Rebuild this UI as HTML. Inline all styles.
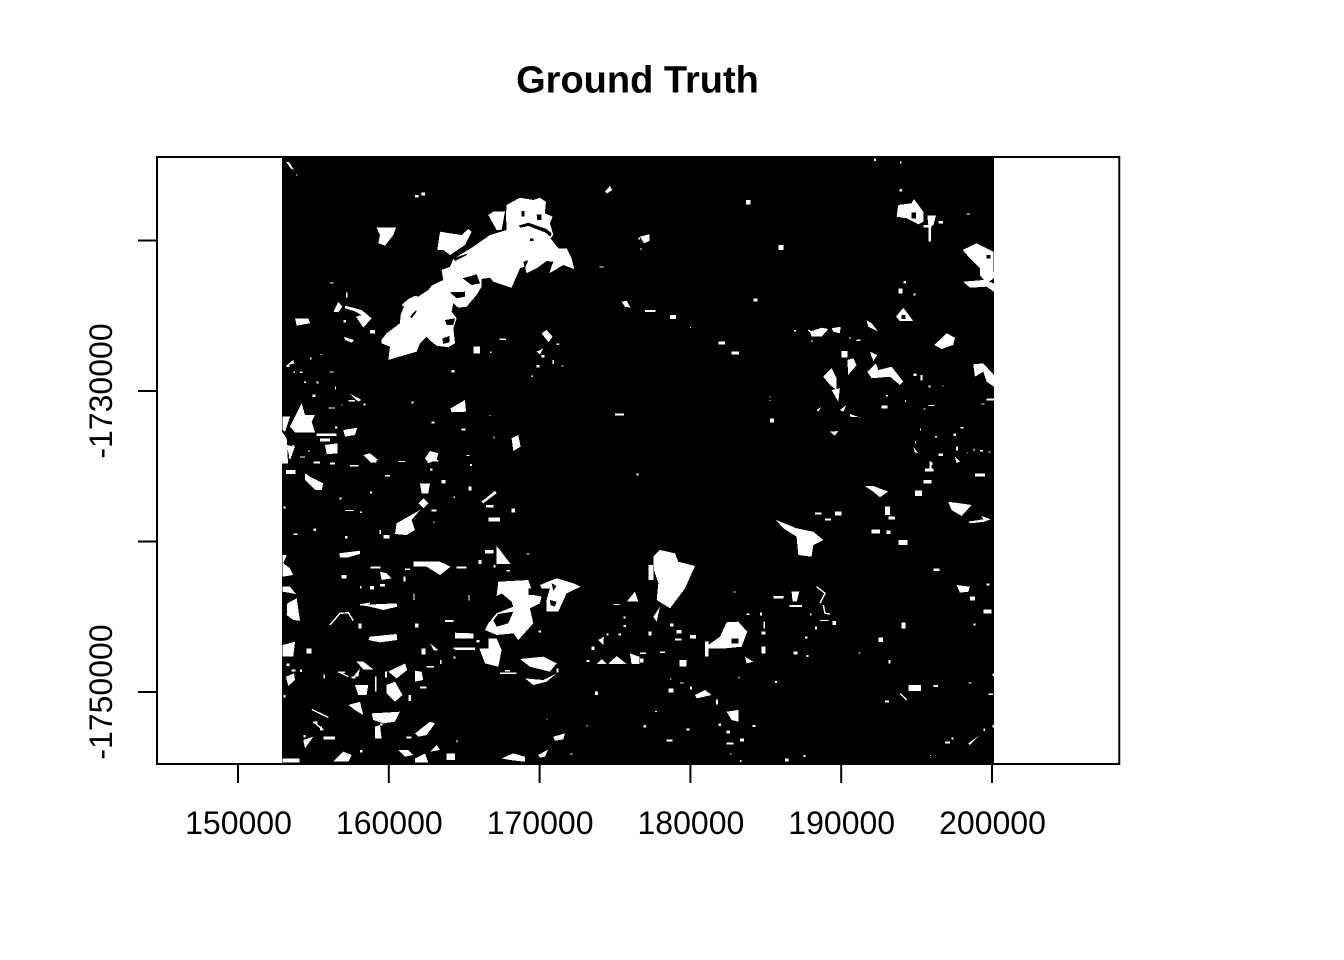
<!DOCTYPE html>
<html>
<head>
<meta charset="utf-8">
<title>Ground Truth</title>
<style>
html,body{margin:0;padding:0;background:#fff}
svg{display:block}
text{font-family:"Liberation Sans",Arial,sans-serif;fill:#000}
</style>
</head>
<body>
<svg id="chart" xmlns="http://www.w3.org/2000/svg" width="1344" height="960" viewBox="0 0 1344 960">
  <rect x="0" y="0" width="1344" height="960" fill="#fff"/>
  <g id="raster" shape-rendering="crispEdges"></g>
  <g id="axes"></g>
  <text x="637.5" y="92.5" text-anchor="middle" font-size="38" font-weight="bold">Ground Truth</text>
</svg>
<script>
// Axis ticks (map metres)
const xTicks = [150000,160000,170000,180000,190000,200000];
const yTicks = [-1720000,-1730000,-1740000,-1750000];
const yTickLabels = ["","-1730000","","-1750000"];
// Raster extent (map metres)
const rasterWest = 152918;
const rasterEast = 200133;
const rasterNorth = -1714452;
const rasterSouth = -1754820;
// Plot window limits (map metres)
const plotWest = 144630;
const plotEast = 208440;
const plotNorth = -1714452;
const plotSouth = -1754784;
// Survey tile origins (map metres) and sample size (metres per sample)
const sampleEast = 22.1;
const sampleNorth = 22.15;
const nwOrigin = [152785,-1714318];
const swOrigin = [152785,-1734585];
const neOrigin = [176657,-1714318];
const seOrigin = [176657,-1734585];

// Class-1 patches in tile sample coordinates
const nwPatches = [
[304,555,320,535,360,505,362,480,372,455,365,450,385,432,405,422,415,425,445,405,455,392,490,375,485,345,510,335,520,312,580,275,630,240,680,225,678,180,680,150,720,128,760,135,780,128,798,140,795,175,818,185,810,205,820,240,812,250,835,280,860,280,875,310,883,342,850,330,808,355,820,320,800,318,770,340,740,355,735,335,720,340,695,398,640,380,630,368,605,372,605,395,590,420,560,455,535,458,520,445,515,470,530,490,520,520,525,565,505,577,470,572,455,560,440,545,420,565,410,590,375,600,325,615,330,575,305,565],
[640,170,675,170,665,225,650,225,625,180],
[480,230,510,235,545,240,565,222,575,230,555,270,510,300,490,285,472,285],
[290,218,348,218,340,240,315,272,295,265,300,240],
[18,20,28,22,42,45,32,40],
[975,110,990,93,997,105,982,115],
[1025,440,1040,437,1052,458,1035,455],
[160,470,175,440,187,455,175,472],
[195,452,245,465,275,490,250,518,228,485,245,480,222,468,195,460],
[45,490,85,490,90,505,50,512],
[192,545,222,555,215,563,195,555],
[785,535,800,525,818,545,805,562],
[770,590,790,580,780,598],
[30,815,65,745,75,780,105,780,95,800,105,832,45,832],
[8,785,30,785,15,830,8,825],
[190,825,232,818,225,840,195,845],
[135,870,172,865,172,895,140,898],
[250,900,270,895,295,915,270,920],
[435,910,450,888,475,895,470,915,445,925],
[695,850,715,840,722,875,700,888],
[512,760,555,735,558,770,515,772],
[208,715,245,735,235,740],
[18,632,40,615,42,625],
[20,870,45,875,30,915],
[6,830,20,850,24,925,6,925]
];
const nwHoles = [
[548,370,590,358,600,385,575,390],
[510,412,555,410,555,425,530,430],
[495,495,525,490,520,510,500,510],
[487,550,508,543,508,562,490,567],
[715,212,745,203,800,222,815,235,812,245,795,232,745,213,722,218],
[390,485,408,465,410,470,395,490],
[725,168,733,168,733,184,725,184],
[770,178,785,178,785,195,772,195],
[520,310,565,295,555,303,525,318],
[750,250,760,250,760,258,750,258],
[730,320,745,316,735,340]
];
const nwSpecks = [
[405,120,10,8],[425,112,10,10],[270,525,15,10],[190,495,8,8],[198,412,5,15],[580,575,20,20],[658,550,20,5],[770,630,8,8],[785,600,8,8],[818,615,4,12],
[110,835,60,8],[120,850,30,10],[205,735,20,5],[1005,775,28,6],[150,382,10,3],[48,58,4,4],[958,334,12,3],[1076,248,4,6],[515,645,8,8],[830,565,5,5],
[845,632,6,3],[755,662,4,4],[60,650,8,4],[148,650,12,3],[110,680,6,6],[72,680,6,4],[98,718,8,8],[165,695,3,8],[90,608,5,6],[120,598,8,2],
[250,745,6,6],[145,758,20,3],[395,740,5,6],[455,800,8,5],[545,820,12,6],[640,845,4,6],[628,780,3,3],[185,748,3,3],[355,918,20,3],[100,920,20,6],
[150,922,15,6],[60,905,15,3],[85,885,4,6],[165,815,8,6],[20,630,8,6],[40,650,5,4],[560,900,8,3],[630,590,4,4],[835,565,4,4]
];
const swPatches = [
[655,365,745,360,760,405,785,410,780,430,750,445,760,490,715,540,700,520,650,525,615,510,625,490,650,460,700,440,695,425,665,400,650,408],
[780,375,830,355,880,370,902,380,860,400,835,455,800,455,800,420,810,385,785,385],
[625,535,650,535,665,570,655,620,615,610,598,565,625,565],
[720,597,790,590,830,610,810,635,750,620],
[735,655,790,660,830,640,800,665,760,675],
[650,258,660,270,692,312,650,312],
[400,305,480,305,512,320,480,345,440,320,400,320],
[178,280,240,272,240,282,205,292,180,292],
[420,70,450,70,445,100,425,100],
[605,125,645,92,650,100,610,130],
[350,190,420,150,395,180,405,210,380,225,345,222],
[415,130,430,115,445,130,430,145],
[75,40,90,50,130,70,125,90,105,90,75,60],
[270,530,350,522,352,540,300,547,265,540],
[240,435,350,430,352,440,310,450,270,440],
[22,430,50,415,60,482,40,480,20,465],
[8,380,30,380,48,402,8,395],
[8,285,20,285,10,310,30,325,40,345,8,350],
[8,555,45,545,40,590,8,590],
[230,605,250,605,280,628,250,628],
[225,675,265,675,260,705,235,705],
[320,675,345,665,368,705,345,725,320,700],
[325,635,375,610,382,630,350,655],
[205,735,240,725,250,765,225,750],
[275,760,360,755,345,785,310,790,280,780],
[285,800,300,795,305,835,285,835],
[405,820,450,785,465,790,440,825,415,830],
[160,905,190,875,215,885,205,905],
[355,870,385,870,400,885,375,890],
[405,895,435,880,445,908,405,908],
[450,875,470,855,480,870],
[820,830,855,820,850,838,825,842],
[775,885,805,868,795,890,780,893],
[1040,425,1065,395,1075,425],
[950,612,965,597,980,612],
[985,612,1010,588,1040,612],
[1050,580,1078,590,1078,612,1055,612],
[955,540,972,530,970,555],
[525,518,580,520,580,535,525,535],
[450,550,475,570,462,572],
[18,650,42,640,45,660,25,678],
[300,335,320,340,335,355,305,360],
[405,632,425,635,430,660,405,665],
[70,840,100,830,75,865],
[665,895,700,880,735,890,735,905,690,900],
[220,650,240,625,235,650]
];
const swHoles = [
[640,480,655,462,700,455,685,490,650,500],
[745,385,760,385,760,405,745,405],
[815,370,830,378,820,392],
[810,420,830,425,825,440,812,435]
];
const swSpecks = [
[8,895,50,12],[625,172,35,12],[618,135,22,8],[695,145,10,12],[530,320,30,6],[595,300,10,12],[615,270,25,10],[18,30,28,12],[270,0,20,8],[445,0,30,5],
[100,5,20,6],[150,8,15,5],[315,45,15,5],[565,80,10,12],[485,60,12,10],[455,148,15,6],[195,150,25,3],[40,220,12,5],[100,205,8,8],[195,228,8,8],
[298,210,5,12],[310,225,18,10],[525,525,30,8],[525,562,60,8],[425,565,12,18],[80,565,15,15],[185,345,15,10],[420,680,20,5],[405,490,10,12],[235,490,10,15],
[130,830,35,8],[270,378,12,10],[300,372,15,8],[370,350,6,15],[272,320,30,6],[375,325,15,5],[285,650,5,45],[315,635,6,18],[130,645,5,10],[385,705,8,18],
[495,480,25,6],[400,400,4,20],[565,405,4,16],[640,315,6,8],[680,330,10,4],[740,280,8,4],[675,630,15,4],[830,625,6,12],[945,695,10,10],[775,512,8,6],
[210,15,25,5],[570,12,6,6],[450,25,8,6],[1070,40,6,6],[178,112,6,6],[270,95,6,6],[520,110,5,4],[460,185,4,4],[10,140,6,6],[240,378,4,8],
[240,155,6,4],[10,705,6,8],[130,640,4,4],[240,870,8,8],[380,830,15,6],[100,785,12,6],[120,800,6,12],[70,825,6,8],[530,840,3,8],[870,880,8,3],
[800,775,3,3],[920,795,3,5],[1000,432,18,3],[1030,470,6,6],[1030,495,8,6],[980,520,6,6],[1015,520,8,6],[935,560,8,10],[920,600,8,6],[480,600,5,12],
[440,618,22,4],[520,590,6,6],[500,880,25,20],[590,540,8,8],[215,650,12,6],[175,635,20,4],[300,790,8,6],[60,628,6,8],[20,610,8,8],[35,628,12,6]
];
const neBlobs = [
[775,150,815,145,822,132,850,170,850,200,835,208,800,190,770,185],
[862,182,888,182,880,212,865,210],
[968,285,1010,265,1060,290,1062,370,1040,385,1020,360,1020,340,990,310],
[970,380,1030,375,1062,385,1062,410,1040,395,990,398],
[768,485,790,458,820,498,780,498],
[883,570,920,535,945,548,940,570,905,582],
[510,530,545,518,565,522,545,545,515,545],
[575,520,602,515,600,535,580,530],
[680,495,695,505,715,530,685,515],
[1000,628,1030,625,1062,660,1062,695,1040,680,1030,650,1005,665],
[550,665,575,640,590,670,590,705,570,690],
[575,705,600,700,595,740],
[622,615,640,610,650,630,625,660],
[690,590,712,600,700,618],
[682,650,708,625,715,645,755,635,790,680,780,690,750,665,695,670],
[600,765,620,750,610,770],
[630,777,660,787,630,785],
[570,830,595,828,585,842],
[0,245,28,238,28,258,12,265],
[820,875,835,895,825,892],
[945,905,960,920,950,925],
[530,765,545,755,535,770]
];
const neHoles = [
[815,172,828,172,828,190,815,190],
[785,480,797,480,797,492,785,492],
[1040,300,1052,300,1052,310,1040,310]
];
const neSpecks = [
[605,588,17,20],[850,210,25,8],[865,215,8,45],[725,752,18,8],[1040,730,22,6],[415,270,16,15],[318,135,14,14],[90,480,18,12],[15,465,32,6],[235,560,20,8],
[275,590,22,8],[340,430,12,10],[390,790,12,12],[775,400,12,15],[895,895,14,8],[948,875,6,12],[702,10,6,8],[780,20,5,5],[778,102,8,8],[980,176,10,3],
[895,198,14,8],[790,378,8,8],[820,416,6,6],[462,525,6,5],[150,516,3,3],[0,280,6,4],[650,553,12,5],[628,546,4,6],[820,655,10,8],[842,660,6,16],
[865,692,6,6],[908,692,3,3],[738,720,6,5],[795,735,3,6],[388,725,3,3],[388,735,3,3],[850,760,6,4],[865,750,18,3],[1025,745,8,3],[962,816,8,5],
[940,835,8,8],[840,820,3,6],[885,843,6,4],[825,858,3,8],[870,922,8,8],[1000,880,4,8],[1020,885,10,4],[1045,890,6,3],[980,892,3,3],[515,555,3,6]
];
const sePatches = [
[40,290,60,270,105,280,115,305,165,318,135,385,90,445,50,420,55,370,42,330],
[40,470,60,440,50,485],
[205,555,240,530,260,487,295,485,322,515,305,560,255,565,200,565],
[408,180,470,205,520,215,550,240,520,255,515,290,475,285,470,230,430,205],
[675,78,700,78,745,95,720,112,700,95],
[925,125,995,135,965,168,935,150],
[985,185,1030,178,1025,168,1052,178,1030,186,990,190],
[950,375,990,380,985,395,960,398],
[165,705,195,690,215,705,170,715],
[260,755,295,750,295,785,275,780],
[455,395,478,395,470,425,458,425],
[315,590,340,605,320,610],
[985,850,1020,825,990,855]
];
const seHoles = [
[275,535,295,535,295,550,275,550]
];
const seSpecks = [
[25,315,15,45],[195,545,10,45],[825,92,22,16],[855,25,26,10],[868,5,6,20],[850,60,25,10],[1005,40,30,10],[735,140,15,25],[745,170,20,8],[585,155,20,12],
[775,240,28,15],[805,675,38,18],[85,685,15,12],[228,718,6,16],[448,435,38,6],[400,408,30,8],[118,600,22,20],[80,838,18,6],[365,560,12,20],[460,575,12,8],
[525,158,20,6],[555,176,18,5],[695,208,25,12],[740,212,12,10],[990,410,15,12],[1030,448,25,12],[880,325,18,8],[1040,370,8,6],[785,488,12,18],[715,532,14,14],
[880,675,14,6],[745,600,6,10],[985,668,10,3],[1050,700,10,5],[735,722,12,5],[578,483,10,12],[360,458,6,8],[405,663,6,6],[500,585,6,6],[150,680,6,8],
[90,490,10,10],[110,510,15,10],[105,535,20,6],[150,525,18,10],[25,515,10,12],[60,575,15,4],[0,578,18,4],[0,595,10,12],[90,655,5,4],[120,668,10,3],
[295,650,4,6],[10,795,8,8],[140,805,8,6],[45,753,6,3],[235,790,8,8],[260,812,10,8],[260,848,20,6],[300,835,12,10],[338,795,8,6],[435,895,10,10],
[300,900,4,6],[270,880,4,4],[490,885,6,6],[915,845,15,6],[935,832,5,6],[1030,805,5,8],[1058,795,6,8],[1058,640,6,8],[1045,700,12,5],[870,885,3,3],
[320,460,8,5],[370,485,5,20],[365,515,12,8],[280,395,6,3],[1000,490,6,6],[540,480,25,3],[510,460,4,6],[495,530,8,6],[525,500,6,8],[655,578,6,3]
];
// Thin linear features: polylines in tile sample coordinates
const nwLines = [[10,850,20,880,12,915],[40,870,28,910]];
const swLines = [[95,748,145,772],[150,495,180,460,205,458,220,482],[240,435,270,430],[175,635,205,650],[100,785,130,810],[520,565,585,565],[660,640,710,640]];
const neLines = [[505,525,520,535]];
const seLines = [[530,380,555,400,540,430],[550,435,555,460,570,462],[780,700,800,720]];

const tiles = [
  {origin:nwOrigin,patches:nwPatches,holes:nwHoles,specks:nwSpecks,lines:nwLines},
  {origin:swOrigin,patches:swPatches,holes:swHoles,specks:swSpecks,lines:swLines},
  {origin:neOrigin,patches:neBlobs,holes:neHoles,specks:neSpecks,lines:neLines},
  {origin:seOrigin,patches:sePatches,holes:seHoles,specks:seSpecks,lines:seLines}
];

const NS = 'http://www.w3.org/2000/svg';
// Axis functions: map metres -> screen
function xScale(e){ return 238 + (e - 150000) * 0.01508; }
function yScale(n){ return 391 - (n + 1730000) * 0.01505; }
function tileX(o, s){ return xScale(o[0] + s * sampleEast); }
function tileY(o, s){ return yScale(o[1] - s * sampleNorth); }
function pts(o, a){
  const out = [];
  for (let i = 0; i < a.length; i += 2) out.push(tileX(o, a[i]).toFixed(1) + ',' + tileY(o, a[i+1]).toFixed(1));
  return out.join(' ');
}

const raster = document.getElementById('raster');
const bg = document.createElementNS(NS, 'rect');


bg.setAttribute('x', xScale(rasterWest));
bg.setAttribute('y', yScale(rasterNorth));
bg.setAttribute('width', xScale(rasterEast) - xScale(rasterWest));
bg.setAttribute('height', yScale(rasterSouth) - yScale(rasterNorth));
bg.setAttribute('fill', '#000');
raster.appendChild(bg);

tiles.forEach(function(t){
  t.patches.forEach(function(p){
    const el = document.createElementNS(NS, 'polygon');
    
    
    el.setAttribute('points', pts(t.origin, p));
    el.setAttribute('fill', '#fff');
    raster.appendChild(el);
  });
  t.holes.forEach(function(p){
    const el = document.createElementNS(NS, 'polygon');
    
    
    el.setAttribute('points', pts(t.origin, p));
    el.setAttribute('fill', '#000');
    raster.appendChild(el);
  });
  t.specks.forEach(function(s){
    const el = document.createElementNS(NS, 'rect');
    
    
    el.setAttribute('x', tileX(t.origin, s[0]).toFixed(1));
    el.setAttribute('y', tileY(t.origin, s[1]).toFixed(1));
    el.setAttribute('width', (tileX(t.origin, s[0] + s[2]) - tileX(t.origin, s[0])).toFixed(1));
    el.setAttribute('height', (tileY(t.origin, s[1] + s[3]) - tileY(t.origin, s[1])).toFixed(1));
    el.setAttribute('fill', '#fff');
    raster.appendChild(el);
  });
  t.lines.forEach(function(p){
    const el = document.createElementNS(NS, 'polyline');
    
    
    el.setAttribute('points', pts(t.origin, p));
    el.setAttribute('fill', 'none');
    el.setAttribute('stroke', '#fff');
    el.setAttribute('stroke-width', '1.4');
    raster.appendChild(el);
  });
});

const axes = document.getElementById('axes');
function addLine(name, x1, y1, x2, y2){
  const el = document.createElementNS(NS, 'line');
  
  
  el.setAttribute('x1', x1);
  el.setAttribute('y1', y1);
  el.setAttribute('x2', x2);
  el.setAttribute('y2', y2);
  el.setAttribute('stroke', '#000');
  el.setAttribute('stroke-width', '2');
  axes.appendChild(el);
}
const frame = document.createElementNS(NS, 'rect');


frame.setAttribute('x', xScale(plotWest));
frame.setAttribute('y', yScale(plotNorth));
frame.setAttribute('width', xScale(plotEast) - xScale(plotWest));
frame.setAttribute('height', yScale(plotSouth) - yScale(plotNorth));
frame.setAttribute('fill', 'none');
frame.setAttribute('stroke', '#000');
frame.setAttribute('stroke-width', '2');
axes.appendChild(frame);

const bottom = yScale(plotSouth);
const left = xScale(plotWest);
xTicks.forEach(function(v){
  const x = xScale(v);
  addLine('x-axis-tick', x, bottom, x, bottom + 19);
  const tx = document.createElementNS(NS, 'text');
  
  
  tx.setAttribute('x', x + 0.5);
  tx.setAttribute('y', 834);
  tx.setAttribute('text-anchor', 'middle');
  tx.setAttribute('font-size', '32');
  tx.textContent = String(v);
  axes.appendChild(tx);
});
yTicks.forEach(function(v, i){
  const y = yScale(v);
  addLine('y-axis-tick', left, y, left - 19, y);
  if (yTickLabels[i]) {
    const ty = document.createElementNS(NS, 'text');
    
    
    ty.setAttribute('transform', 'translate(112,' + y.toFixed(1) + ') rotate(-90)');
    ty.setAttribute('text-anchor', 'middle');
    ty.setAttribute('font-size', '32');
    ty.textContent = yTickLabels[i];
    axes.appendChild(ty);
  }
});
</script>
</body>
</html>
